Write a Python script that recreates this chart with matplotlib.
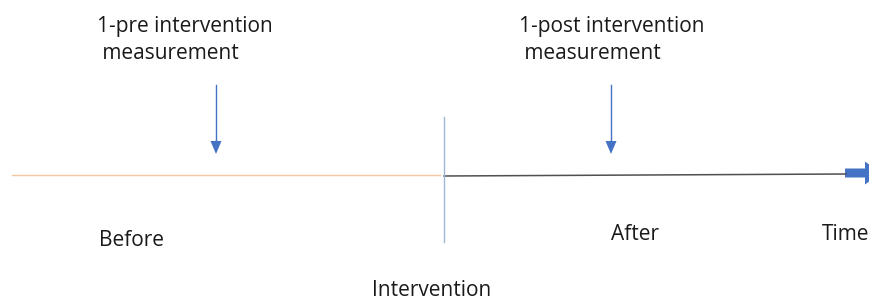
import matplotlib.pyplot as plt

# timeline diagram, coordinates in pixel units of the original picture
measure_labels = ['1-pre intervention\n measurement', '1-post intervention\n measurement']
measure_x = [216, 611]
text_x = [97, 519]
phase_labels = ['Before', 'After', 'Time']
phase_x = [99, 611, 822]
phase_y = [241, 235, 235]
intervention_x = 444
timeline_start, timeline_end = 12, 869

plt.rcParams['font.family'] = ['Open Sans', 'DejaVu Sans']
fs = 15

fig = plt.figure(figsize=(8.69, 2.99), dpi=100)
ax = fig.add_axes([0, 0, 1, 1])
ax.set_xlim(0, 869)
ax.set_ylim(299, 0)
ax.axis('off')

# before segment (orange) and after segment (dark grey)
ax.plot([timeline_start, intervention_x - 4], [175, 175], color='#f4c8a0', lw=1)
ax.plot([intervention_x, 846], [176, 174], color='#505050', lw=1.1)
# thick blue arrow at the end of the time axis (head cut by the edge)
ax.arrow(845, 173, 36, 0, width=9, head_width=23, head_length=16,
         length_includes_head=True, color='#4472c4', lw=0)

# intervention line
ax.plot([intervention_x, intervention_x], [117, 242], color='#9bb8d8', lw=1)
ax.text(372, 290, 'Intervention', fontsize=fs, va='center', ha='left', color='#1a1a1a')

# measurement labels and arrows
for lab, x, tx in zip(measure_labels, measure_x, text_x):
    ax.text(tx, 40, lab, fontsize=fs, va='center', ha='left',
            linespacing=1.35, color='#1a1a1a')
    ax.plot([x, x], [85, 145], color='#4472c4', lw=1)
    ax.arrow(x, 140, 0, 14, width=0.5, head_width=11, head_length=13,
             length_includes_head=True, color='#4472c4', lw=0)

for lab, x, y in zip(phase_labels, phase_x, phase_y):
    ax.text(x, y, lab, fontsize=fs, va='center', ha='left', color='#1a1a1a')

fig.savefig('out.png', dpi=100)
